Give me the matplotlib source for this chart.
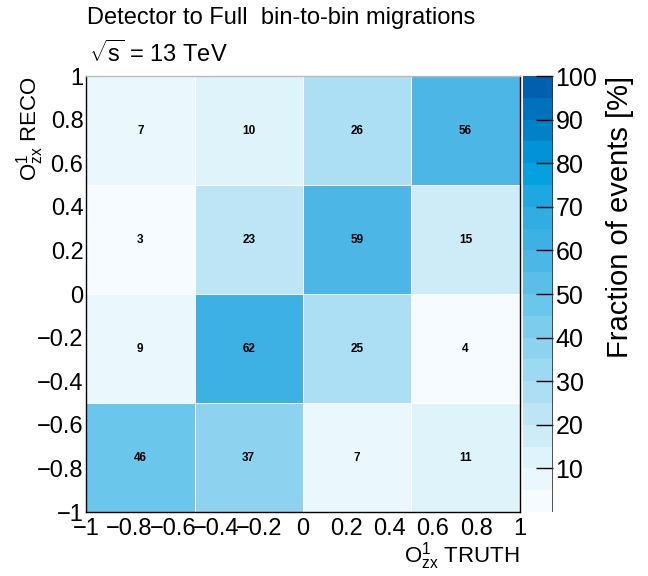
import numpy as np
import matplotlib
matplotlib.use("Agg")
import matplotlib.pyplot as plt
from matplotlib.colors import LinearSegmentedColormap, BoundaryNorm
from matplotlib.ticker import FuncFormatter

plt.rcParams['font.family'] = ['Liberation Sans', 'DejaVu Sans']
plt.rcParams['mathtext.fontset'] = 'custom'
plt.rcParams['mathtext.rm'] = 'Liberation Sans'
plt.rcParams['mathtext.it'] = 'Liberation Sans'
plt.rcParams['mathtext.bf'] = 'Liberation Sans:bold'

# bin edges (truth on x, reco on y)
bin_edges = [-1.0, -0.5, 0.0, 0.5, 1.0]
# fraction of events [%], rows from bottom (reco -1..-0.5) to top
migrations = [
    [46, 37, 7, 11],
    [9, 62, 25, 4],
    [3, 23, 59, 15],
    [7, 10, 26, 56],
]
level_edges = list(range(0, 105, 5))

cmap = LinearSegmentedColormap.from_list("root_blue", [
    (0.00, "#f5fbfe"),
    (0.10, "#e0f3fa"),
    (0.25, "#b0e0f4"),
    (0.40, "#82cfef"),
    (0.50, "#62c2ea"),
    (0.60, "#45b4e5"),
    (0.70, "#2eabe2"),
    (0.80, "#009fdf"),
    (0.90, "#0080c8"),
    (1.00, "#0060b0"),
])
norm = BoundaryNorm(level_edges, cmap.N)

fig = plt.figure(figsize=(6.48, 5.76), dpi=100)
ax = fig.add_axes([0.133, 0.111, 0.669, 0.757])
cax = fig.add_axes([0.807, 0.111, 0.046, 0.757])

z = np.array(migrations)
mesh = ax.pcolormesh(bin_edges, bin_edges, z, cmap=cmap, norm=norm,
                     edgecolor="white", linewidth=0.6)

centers = [(bin_edges[i] + bin_edges[i + 1]) / 2 for i in range(len(bin_edges) - 1)]
for r, yc in enumerate(centers):
    for c, xc in enumerate(centers):
        ax.text(xc, yc, f"{migrations[r][c]}", ha="center", va="center",
                fontsize=8.5, fontweight="bold", color="black")

ax.set_xlim(-1, 1)
ax.set_ylim(-1, 1)
ticks = [-1, -0.8, -0.6, -0.4, -0.2, 0, 0.2, 0.4, 0.6, 0.8, 1]


def tick_fmt(v, pos):
    if abs(v) < 1e-9:
        return "0"
    return f"{v:g}".replace("-", "\u2212")


fmt = FuncFormatter(tick_fmt)
ax.set_xticks(ticks)
ax.set_yticks(ticks)
ax.xaxis.set_major_formatter(fmt)
ax.yaxis.set_major_formatter(fmt)
ax.tick_params(length=0, labelsize=17)
ax.tick_params(axis="x", pad=4)
ax.tick_params(axis="y", pad=2)
for s in ax.spines.values():
    s.set_linewidth(1.0)
ax.spines["top"].set_color("#bbbbbb")

ax.set_xlabel(r"O$^{1}_{zx}$ TRUTH", fontsize=16, loc="right")
ax.xaxis.set_label_coords(1.0, -0.065)
ax.set_ylabel(r"O$^{1}_{zx}$ RECO", fontsize=16, loc="top")
ax.yaxis.set_label_coords(-0.092, 1.0)

cb = fig.colorbar(mesh, cax=cax, ticks=range(10, 101, 10))
cb.outline.set_visible(False)
cax.minorticks_off()
cax.tick_params(direction="in", length=12, width=1, labelsize=18, pad=2)
cax.yaxis.set_ticks_position("right")
cb.set_label("Fraction of events [%]", fontsize=21, loc="top", labelpad=6)
cax.axvline(1.0, color="#333333", linewidth=1.2)

fig.text(0.134, 0.988, "Detector to Full  bin-to-bin migrations", fontsize=17,
         ha="left", va="top")
fig.text(0.138, 0.93, r"$\sqrt{s}$ = 13 TeV", fontsize=17, ha="left", va="top")

fig.savefig("out.png", dpi=100)
